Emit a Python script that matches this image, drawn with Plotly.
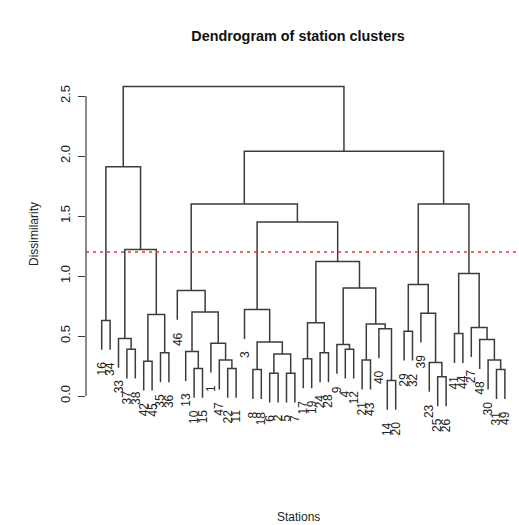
import plotly.graph_objects as go

# hclust-style merge table: a negative entry is a station id, a positive
# entry refers to an earlier merge step (1-based), heights are dissimilarities.
merge_a = [-16, -37, -33, -42, -35, 4, 3, 1,
           -10, -13, -22, -47, -1, 10, -46,
           -8, -6, -5, 17, 16, -3, -17, -24, 22, -4, -9, -21, -14, -40, 27, 26, 24, 21, 15,
           -29, -25, -23, -39, 35, -41, -31, -30, -48, -27, 40, 39, 34, 8]
merge_b = [-34, -38, 2, -45, -36, 5, 6, 7,
           -15, 9, -11, 11, 12, 13, 14,
           -18, -2, -7, 18, 19, 20, -19, -28, 23, -12, 25, -43, -20, 28, 29, 30, 31, 32, 33,
           -32, -26, 36, 37, 38, -44, -49, 41, 42, 43, 44, 45, 46, 47]
merge_height = [0.63, 0.39, 0.48, 0.29, 0.36, 0.68, 1.22, 1.91,
                0.23, 0.37, 0.23, 0.30, 0.44, 0.70, 0.88,
                0.22, 0.19, 0.19, 0.35, 0.45, 0.72, 0.31, 0.36, 0.61, 0.39, 0.43, 0.30, 0.13,
                0.56, 0.60, 0.90, 1.12, 1.45, 1.60,
                0.54, 0.16, 0.28, 0.69, 0.93, 0.52, 0.22, 0.30, 0.47, 0.57, 1.02, 1.60, 2.04, 2.58]

cut_height = 1.2
y_ticks = [0.0, 0.5, 1.0, 1.5, 2.0, 2.5]

title_text = "Dendrogram of station clusters"
x_title = "Stations"
y_title = "Dissimilarity"

FONT = "Liberation Sans, Arial, Helvetica, sans-serif"
LINE = "#3c3c3c"

# labels hang below their merge by 10% of the height range (R's hang = 0.1)
hang = 0.1 * (max(merge_height) - min(merge_height))

# left-to-right leaf order from a depth-first walk of the merge tree
leaf_order = []


def walk(node):
    if node < 0:
        leaf_order.append(-node)
    else:
        walk(merge_a[node - 1])
        walk(merge_b[node - 1])


walk(len(merge_height))
leaf_pos = {st: i + 1 for i, st in enumerate(leaf_order)}

node_x = {}
seg_x, seg_y = [], []
leaf_tip = {}


def child_xy(node, parent_h):
    if node < 0:
        y = parent_h - hang
        leaf_tip[-node] = y
        return leaf_pos[-node], y
    return node_x[node], merge_height[node - 1]


for k in range(1, len(merge_height) + 1):
    h = merge_height[k - 1]
    xa, ya = child_xy(merge_a[k - 1], h)
    xb, yb = child_xy(merge_b[k - 1], h)
    seg_x += [xa, xa, xb, xb, None]
    seg_y += [ya, h, h, yb, None]
    node_x[k] = (xa + xb) / 2

fig = go.Figure()
fig.add_trace(go.Scatter(x=seg_x, y=seg_y, mode="lines",
                         line=dict(color=LINE, width=1.5),
                         hoverinfo="skip", showlegend=False))

# cut line
fig.add_hline(y=cut_height, line=dict(color="#e8343a", width=1.6, dash="3px,4px"))

# y axis line only spans the tick range
fig.add_shape(type="line", xref="paper", yref="y", x0=0, x1=0,
              y0=y_ticks[0], y1=y_ticks[-1], line=dict(color=LINE, width=1.2))

# station labels under each leaf
for st in leaf_order:
    fig.add_annotation(x=leaf_pos[st], y=leaf_tip[st], text=str(st),
                       textangle=-90, showarrow=False, xanchor="center",
                       yanchor="top", yshift=-10,
                       font=dict(family=FONT, size=12, color="#222"))

W, H = 519, 525
ml, mr, mt, mb = 86, 0, 70, 95


def px_to_paper(px, py):
    return (px - ml) / (W - ml - mr), (H - mb - py) / (H - mt - mb)


px, py = px_to_paper(34, 234)
fig.add_annotation(xref="paper", yref="paper", x=px, y=py, text=y_title,
                   textangle=-90, showarrow=False, xanchor="center", yanchor="middle",
                   font=dict(family=FONT, size=12, color="#222"))
px, py = px_to_paper(298, 517)
fig.add_annotation(xref="paper", yref="paper", x=px, y=py, text=x_title,
                   showarrow=False, xanchor="center", yanchor="middle",
                   font=dict(family=FONT, size=12, color="#222"))

fig.update_layout(
    width=W, height=H,
    margin=dict(l=ml, r=mr, t=mt, b=mb),
    paper_bgcolor="white", plot_bgcolor="white",
    title=dict(text="<b>" + title_text + "</b>", x=298 / W, xanchor="center",
               y=1 - 36 / H, yanchor="middle",
               font=dict(family=FONT, size=14.4, color="#111")),
    xaxis=dict(visible=False, range=[-0.87, 50.68]),
    yaxis=dict(range=[-0.2833, 2.7167], showgrid=False, zeroline=False,
               showline=False, ticks="outside", ticklen=7, tickwidth=1.2,
               tickcolor=LINE, tickvals=y_ticks,
               ticktext=[f"{v:.1f}" for v in y_ticks], tickangle=-90,
               ticklabelstandoff=3,
               tickfont=dict(family=FONT, size=13, color="#222")),
)

fig.write_html("out.html")
